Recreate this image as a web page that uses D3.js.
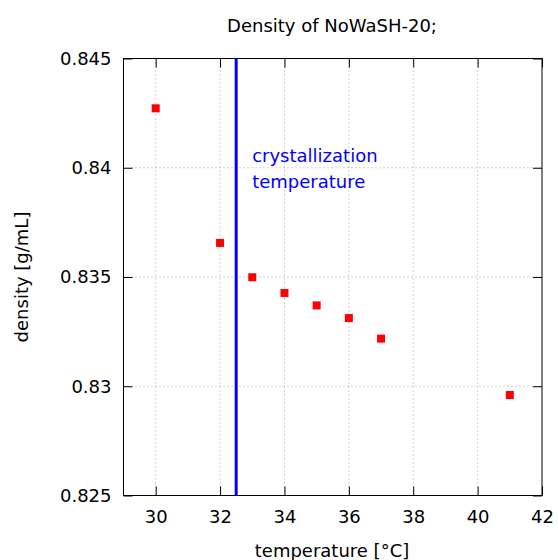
<!DOCTYPE html>
<html>
<head>
<meta charset="utf-8">
<script src="https://cdn.jsdelivr.net/npm/d3@7"></script>
<style>
body { margin: 0; background: #fff; }
text { font-family: "DejaVu Sans", sans-serif; }
</style>
</head>
<body>
<script>
// measured data
const temperature = [30, 32, 33, 34, 35, 36, 37, 41];
const density = [0.84272, 0.83656, 0.83499, 0.83427, 0.83370, 0.83312, 0.83218, 0.82960];
const x_ticks = [30, 32, 34, 36, 38, 40, 42];
const y_ticks = [0.825, 0.83, 0.835, 0.84, 0.845];
const cryst_temp = 32.5;

let margin = {top: 58.5, right: 16, bottom: 64.5, left: 123.5},
    width = 558 - margin.left - margin.right,
    height = 560 - margin.top - margin.bottom;

let x_scale = d3.scaleLinear().domain([29, 42]).range([0, width]);
let y_scale = d3.scaleLinear().domain([0.825, 0.845]).range([height, 0]);

let svg = d3.select("body").append("svg")
    .attr("width", 558)
    .attr("height", 560);

let g = svg.append("g")
    .attr("transform", `translate(${margin.left}, ${margin.top})`);

// grid
g.append("g").selectAll("line")
    .data(x_ticks.filter(d => d > 29 && d < 42))
    .enter().append("line")
    .attr("x1", d => x_scale(d)).attr("x2", d => x_scale(d))
    .attr("y1", 0).attr("y2", height)
    .attr("stroke", "#a0a0a0")
    .attr("stroke-width", 1)
    .attr("stroke-dasharray", "1,3");

g.append("g").selectAll("line")
    .data(y_ticks.filter(d => d > 0.825 && d < 0.845))
    .enter().append("line")
    .attr("x1", 0).attr("x2", width)
    .attr("y1", d => y_scale(d)).attr("y2", d => y_scale(d))
    .attr("stroke", "#a0a0a0")
    .attr("stroke-width", 1)
    .attr("stroke-dasharray", "1,3");

// axes, ticks pointing inward, mirrored
let fmt_y = d => d3.format("")(+d.toFixed(3));

g.append("g")
    .attr("transform", `translate(0, ${height})`)
    .call(d3.axisBottom(x_scale).tickValues(x_ticks).tickSizeInner(-9).tickSizeOuter(0).tickPadding(15))
    .call(a => a.select(".domain").remove());

g.append("g")
    .call(d3.axisTop(x_scale).tickValues(x_ticks).tickSizeInner(-9).tickSizeOuter(0).tickFormat(""))
    .call(a => a.select(".domain").remove());

g.append("g")
    .call(d3.axisLeft(y_scale).tickValues(y_ticks).tickSizeInner(-9).tickSizeOuter(0).tickPadding(12).tickFormat(fmt_y))
    .call(a => a.select(".domain").remove());

g.append("g")
    .attr("transform", `translate(${width}, 0)`)
    .call(d3.axisRight(y_scale).tickValues(y_ticks).tickSizeInner(-9).tickSizeOuter(0).tickFormat(""))
    .call(a => a.select(".domain").remove());

g.selectAll(".tick line").attr("stroke", "#000");
g.selectAll(".tick text")
    .attr("fill", "#000")
    .style("font-size", "18px")
    .style("font-family", "'DejaVu Sans', sans-serif");

g.append("rect")
    .attr("width", width)
    .attr("height", height)
    .attr("fill", "none")
    .attr("stroke", "#000")
    .attr("stroke-width", 1);

// crystallization line
g.append("line")
    .attr("x1", x_scale(cryst_temp)).attr("x2", x_scale(cryst_temp))
    .attr("y1", 0).attr("y2", height)
    .attr("stroke", "#0000ff")
    .attr("stroke-width", 3);

g.append("text")
    .attr("x", x_scale(cryst_temp) + 16)
    .attr("y", 103)
    .attr("fill", "#0000ff")
    .style("font-size", "18px")
    .text("crystallization");

g.append("text")
    .attr("x", x_scale(cryst_temp) + 16)
    .attr("y", 129)
    .attr("fill", "#0000ff")
    .style("font-size", "18px")
    .text("temperature");

// data points
g.selectAll(".pt")
    .data(temperature)
    .enter().append("rect")
    .attr("class", "pt")
    .attr("x", (d, i) => x_scale(d) - 4)
    .attr("y", (d, i) => y_scale(density[i]) - 4)
    .attr("width", 8)
    .attr("height", 8)
    .attr("fill", "#ff0000");

// title & labels
svg.append("text")
    .attr("x", 332)
    .attr("y", 32)
    .style("text-anchor", "middle")
    .style("font-size", "18px")
    .text("Density of NoWaSH-20;");

svg.append("text")
    .attr("x", 332)
    .attr("y", 557)
    .style("text-anchor", "middle")
    .style("font-size", "18px")
    .text("temperature [°C]");

svg.append("text")
    .style("text-anchor", "middle")
    .style("font-size", "18px")
    .attr("transform", `translate(28, ${margin.top + height / 2}) rotate(-90)`)
    .text("density [g/mL]");
</script>
</body>
</html>
